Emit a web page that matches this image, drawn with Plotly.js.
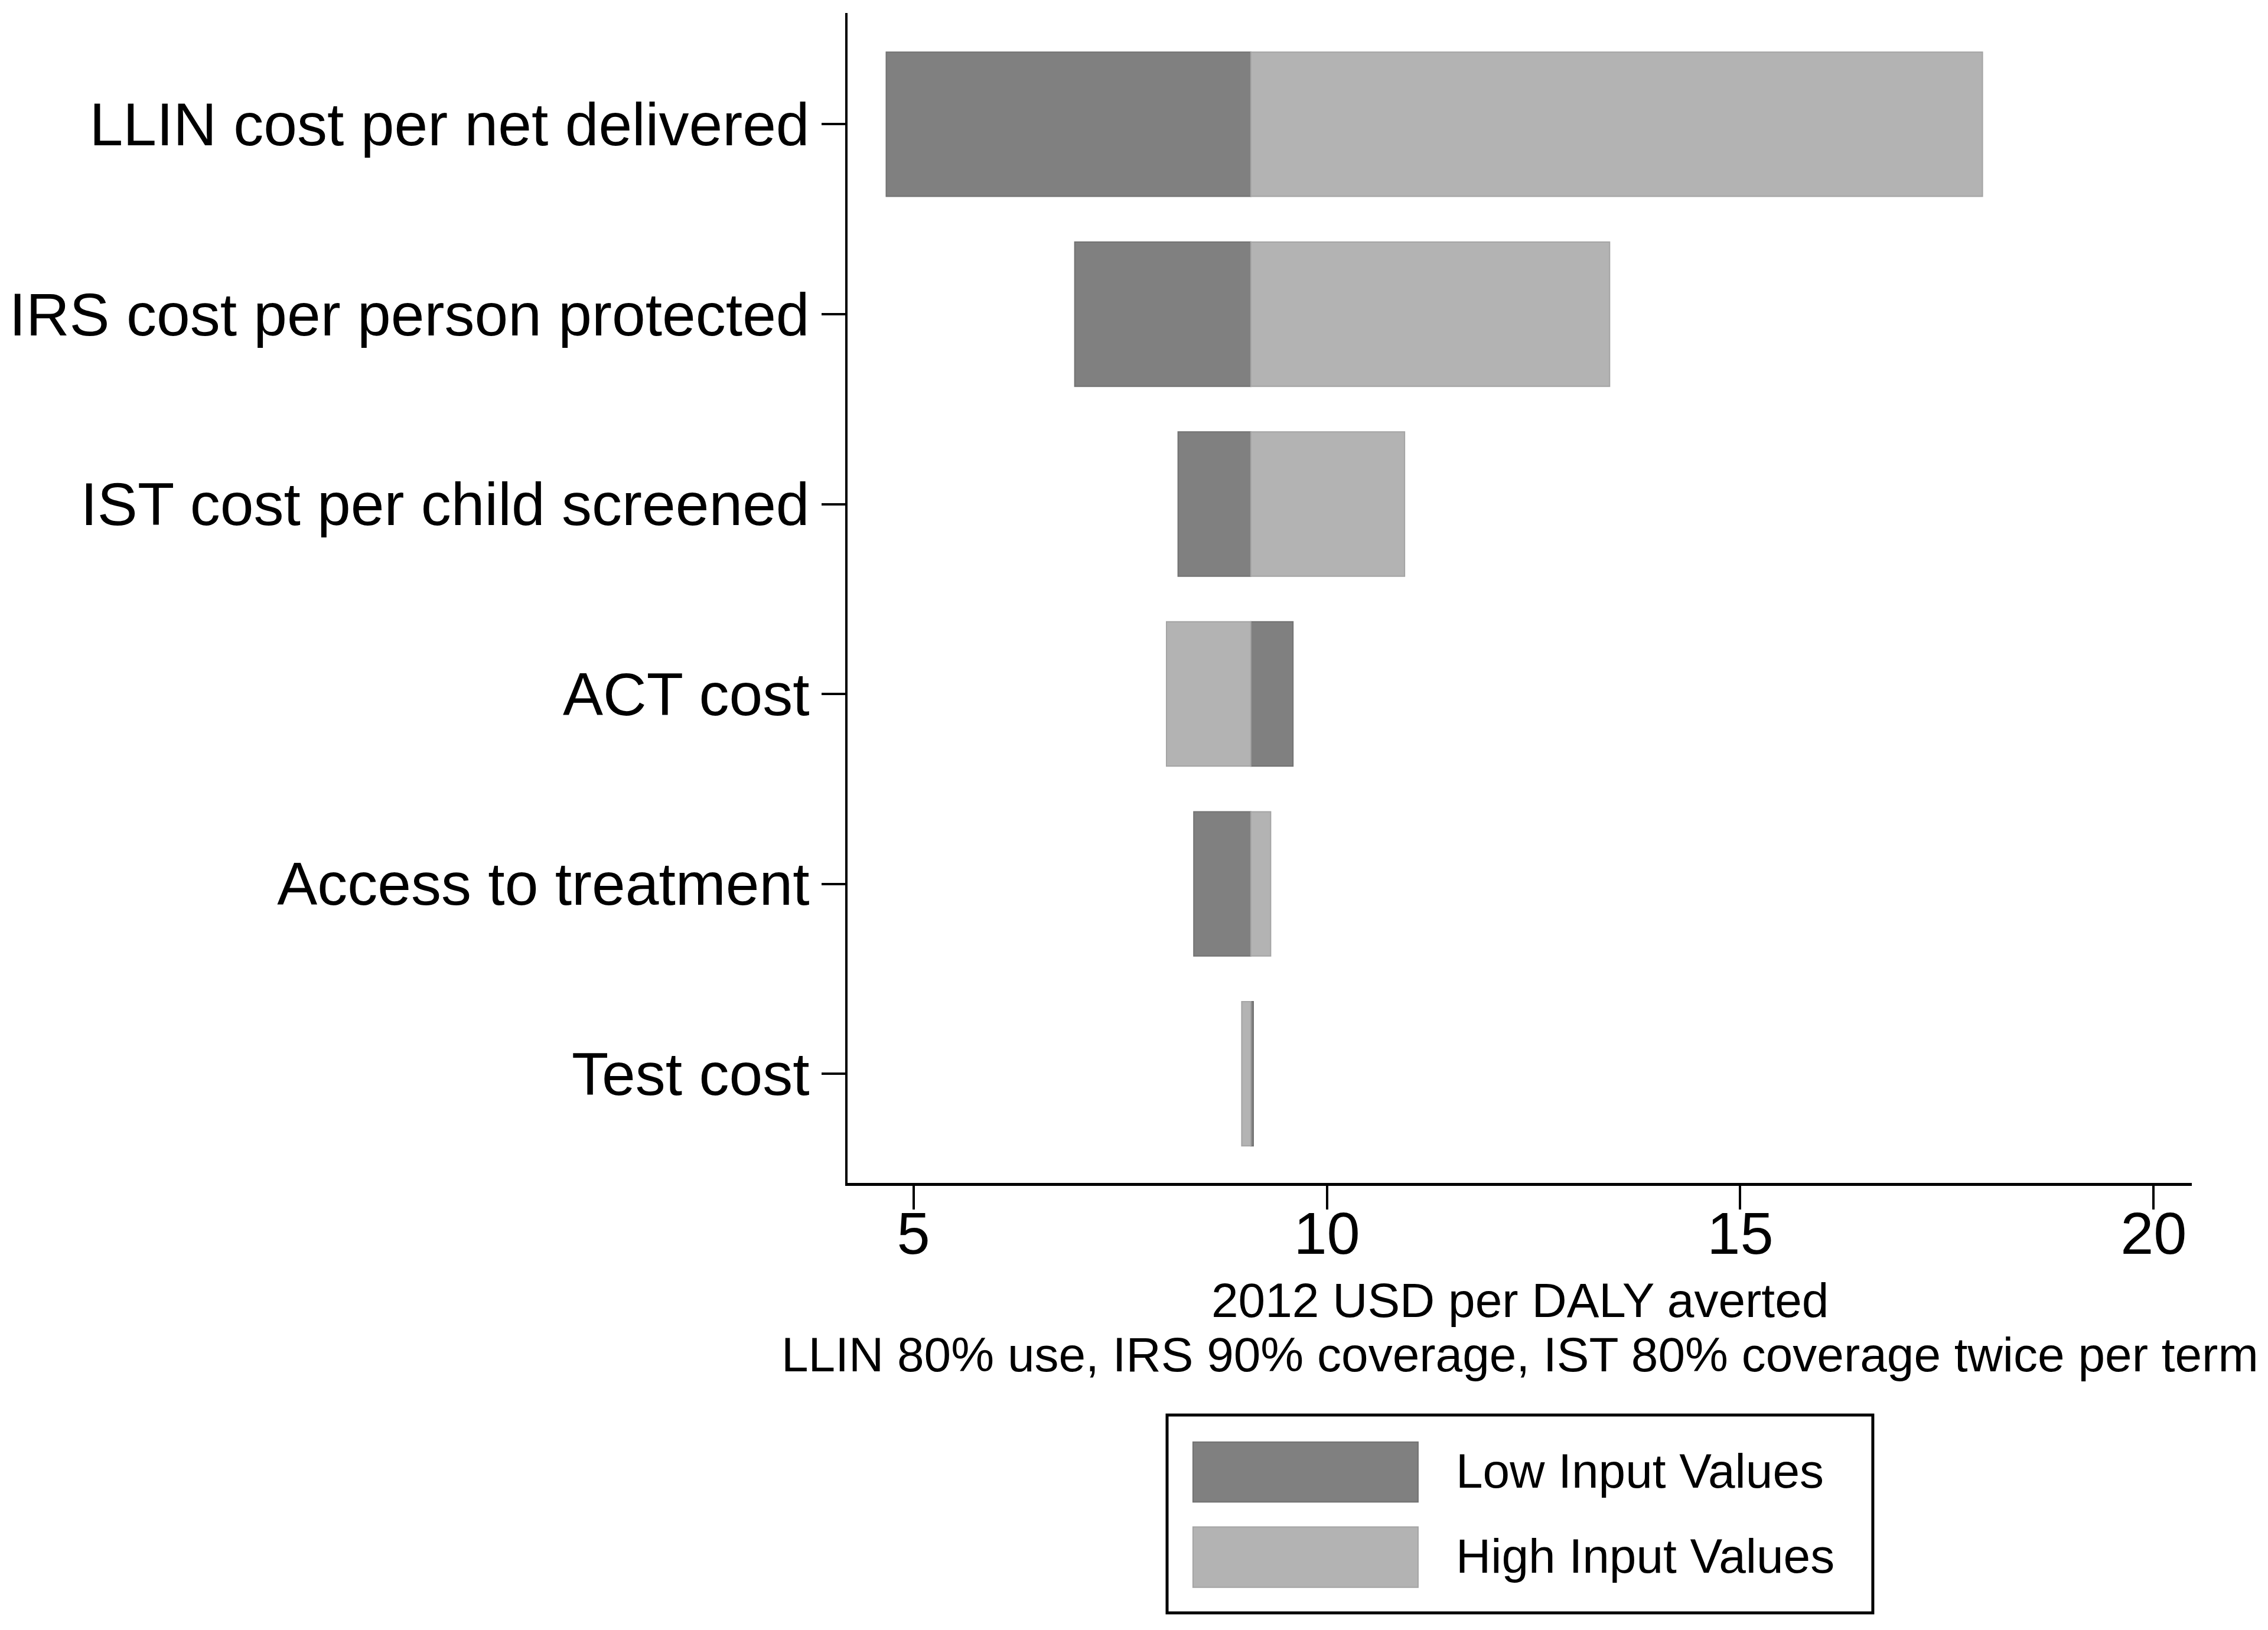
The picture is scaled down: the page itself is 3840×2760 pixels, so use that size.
<!DOCTYPE html>
<html>
<head>
<meta charset="utf-8">
<script src="https://cdn.plot.ly/plotly-3.0.1.min.js"></script>
<style>
html, body { margin: 0; padding: 0; background: #ffffff; }
#chart { width: 3840px; height: 2760px; }
</style>
</head>
<body>
<div id="chart"></div>
<script>
// Data
var categories = [
  "LLIN cost per net delivered",
  "IRS cost per person protected",
  "IST cost per child screened",
  "ACT cost",
  "Access to treatment",
  "Test cost"
];
var baseValue = 9.08;
var lowInputValues  = [4.67, 6.95, 8.20, 9.59, 8.39, 9.11];
var highInputValues = [17.93, 13.42, 10.94, 8.06, 9.32, 8.97];
var xTickValues = [5, 10, 15, 20];
var xTitleLine1 = "2012 USD per DALY averted";
var xTitleLine2 = "LLIN 80% use, IRS 90% coverage, IST 80% coverage twice per term";
var legendLabels = ["Low Input Values", "High Input Values"];

var darkFill = "#808080", lightFill = "#b3b3b3";
var FONT = "Liberation Sans, Arial, Helvetica, sans-serif";

function lengths(vals) { return vals.map(function (v) { return v - baseValue; }); }
function bases(vals) { return vals.map(function () { return baseValue; }); }

var traceLow = {
  type: "bar", orientation: "h", name: legendLabels[0],
  y: categories, x: lengths(lowInputValues), base: bases(lowInputValues),
  width: 0.76,
  marker: { color: darkFill, line: { color: "#727272", width: 2 } },
  showlegend: false, hoverinfo: "skip"
};
var traceHigh = {
  type: "bar", orientation: "h", name: legendLabels[1],
  y: categories, x: lengths(highInputValues), base: bases(highInputValues),
  width: 0.76,
  marker: { color: lightFill, line: { color: "#a4a4a4", width: 2 } },
  showlegend: false, hoverinfo: "skip"
};

// Manual legend box (Stata style) drawn in paper coordinates
var shapes = [
  { type: "rect", xref: "paper", yref: "paper", x0: 0.2377, x1: 0.7627, y0: -0.3675, y1: -0.1984,
    line: { color: "#000000", width: 5 }, fillcolor: "#ffffff" },
  { type: "rect", xref: "paper", yref: "paper", x0: 0.2570, x1: 0.4244, y0: -0.2727, y1: -0.2215,
    line: { color: "#727272", width: 2 }, fillcolor: darkFill },
  { type: "rect", xref: "paper", yref: "paper", x0: 0.2570, x1: 0.4244, y0: -0.3456, y1: -0.2941,
    line: { color: "#a4a4a4", width: 2 }, fillcolor: lightFill }
];

var annotations = [
  { xref: "paper", yref: "paper", x: 0.5, y: -0.1000, xanchor: "center", yanchor: "middle",
    text: xTitleLine1, showarrow: false, font: { family: FONT, size: 82, color: "#000000" } },
  { xref: "paper", yref: "paper", x: 0.5, y: -0.1466, xanchor: "center", yanchor: "middle",
    text: xTitleLine2, showarrow: false, font: { family: FONT, size: 82, color: "#000000" } },
  { xref: "paper", yref: "paper", x: 0.4517, y: -0.2459, xanchor: "left", yanchor: "middle",
    text: legendLabels[0], showarrow: false, font: { family: FONT, size: 82, color: "#000000" } },
  { xref: "paper", yref: "paper", x: 0.4517, y: -0.3188, xanchor: "left", yanchor: "middle",
    text: legendLabels[1], showarrow: false, font: { family: FONT, size: 82, color: "#000000" } }
];

var layout = {
  width: 3840, height: 2760,
  margin: { l: 1435, r: 129, t: 22, b: 757, pad: 0 },
  paper_bgcolor: "#ffffff", plot_bgcolor: "#ffffff",
  barmode: "overlay",
  showlegend: false,
  font: { family: FONT, color: "#000000" },
  xaxis: {
    range: [4.202, 20.462],
    tickvals: xTickValues,
    ticktext: xTickValues.map(String),
    ticks: "outside", ticklen: 40, tickwidth: 4, tickcolor: "#000000",
    ticklabelstandoff: -46,
    showline: true, linewidth: 4.5, linecolor: "#000000",
    showgrid: false, zeroline: false,
    tickfont: { family: FONT, size: 101, color: "#000000" },
    fixedrange: true
  },
  yaxis: {
    type: "category",
    categoryorder: "array", categoryarray: categories,
    range: [5.575, -0.586],
    ticks: "outside", ticklen: 40, tickwidth: 4, tickcolor: "#000000",
    showline: true, linewidth: 4, linecolor: "#000000",
    showgrid: false, zeroline: false,
    tickfont: { family: FONT, size: 102, color: "#000000" },
    fixedrange: true
  },
  shapes: shapes,
  annotations: annotations
};

Plotly.newPlot("chart", [traceLow, traceHigh], layout, { displayModeBar: false, staticPlot: true });
</script>
</body>
</html>
